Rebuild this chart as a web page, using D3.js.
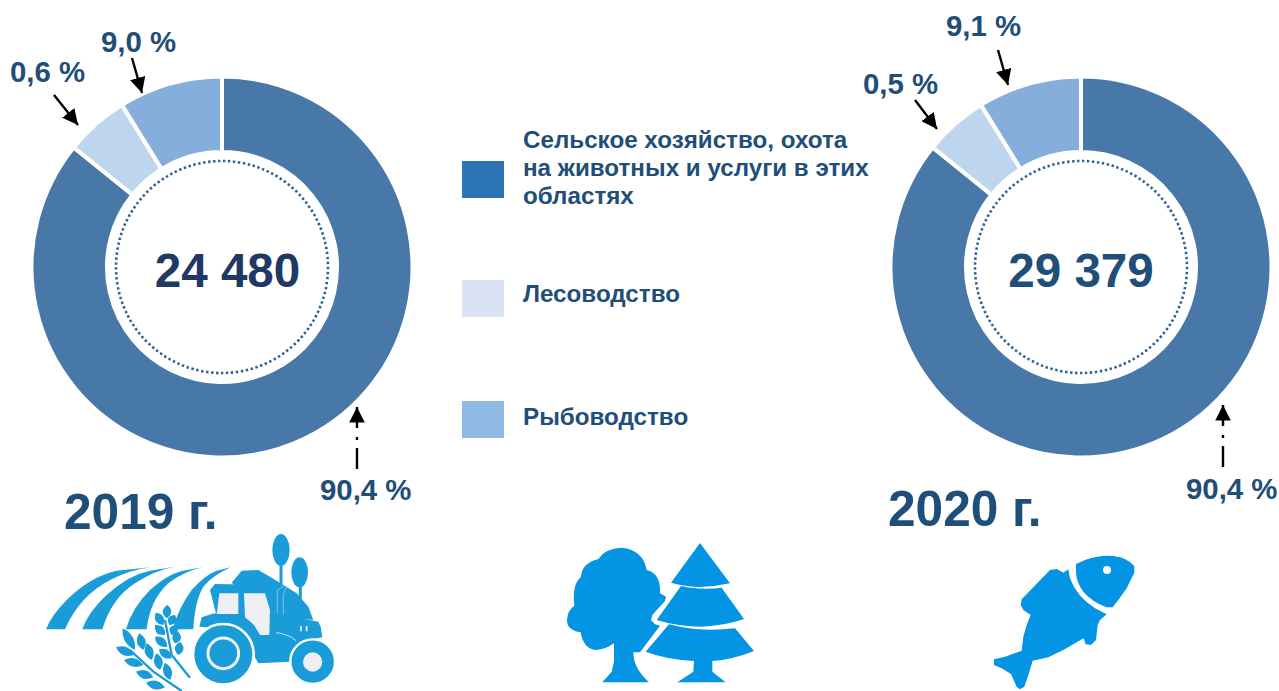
<!DOCTYPE html>
<html><head><meta charset="utf-8">
<script src="https://cdnjs.cloudflare.com/ajax/libs/d3/7.8.5/d3.min.js"></script>
<style>html,body{margin:0;padding:0;background:#fff;overflow:hidden}svg{display:block}text{font-family:"Liberation Sans",Arial,sans-serif;font-weight:700}</style>
</head><body><svg id="c" width="1279" height="691"></svg>
<script>
const categories=["Сельское хозяйство, охота на животных и услуги в этих областях","Лесоводство","Рыбоводство"];
const legendLines=[["Сельское хозяйство, охота","на животных и услуги в этих","областях"],["Лесоводство"],["Рыбоводство"]];
const sliceColors=["#4878A8","#BDD6EE","#85AEDC"];
const legendColors=["#2E75B6","#DAE3F3","#8FB9E3"];
const shares2019=[85.8,5.4,8.8];
const shares2020=[85.8,5.4,8.8];
const labels2019=["90,4 %","0,6 %","9,0 %"];
const labels2020=["90,4 %","0,5 %","9,1 %"];
const totals=["24 480","29 379"];
const years=["2019 г.","2020 г."];

const svg=d3.select("#c");
const textCol="#1F4E79";
const pie=d3.pie().sort(null).value(d=>d);
const arc=d3.arc().innerRadius(115).outerRadius(190.5);
svg.append("defs").append("marker").attr("id","ah").attr("viewBox","0 0 10 10").attr("refX",10).attr("refY",5)
  .attr("markerWidth",6.5).attr("markerHeight",6.5).attr("orient","auto").attr("markerUnits","strokeWidth")
  .append("path").attr("d","M0,0L10,5L0,10Z").attr("fill","#000");

function donut(cx,cy,vals,total,totalCol,dx){
  const g=svg.append("g").attr("transform",`translate(${cx},${cy})`);
  g.selectAll("path").data(pie(vals)).join("path").attr("d",arc)
    .attr("fill",(d,i)=>sliceColors[i]).attr("stroke","#fff").attr("stroke-width",4);
  g.append("circle").attr("r",106).attr("fill","none").attr("stroke","#2F6190").attr("stroke-width",2.6).attr("stroke-dasharray","2.4 2.6");
  g.append("text").attr("text-anchor","middle").attr("x",dx).attr("y",20).attr("font-size",47.6).attr("fill",totalCol).text(total);
}
donut(222,267,shares2019,totals[0],"#203864",5.5);
donut(1081,267,shares2020,totals[1],"#1F4E79",0);

function label(t,x,y){svg.append("text").attr("x",x).attr("y",y).attr("font-size",29.4).attr("fill",textCol).text(t);}
label(labels2019[2],101,52);label(labels2019[1],10,82);label(labels2019[0],320,500);
label(labels2020[2],946,36);label(labels2020[1],863,94);label(labels2020[0],1186,499);

function arrow(x1,y1,x2,y2,dash){
  const l=svg.append("line").attr("x1",x1).attr("y1",y1).attr("x2",x2).attr("y2",y2)
   .attr("stroke","#000").attr("stroke-width",2.4).attr("marker-end","url(#ah)");
  if(dash)l.attr("stroke-dasharray",dash);
}
arrow(132,58,142,93);arrow(54,95,78,125);arrow(357,469,357,407,"21 8 3 9 40");
arrow(998,50,1008,85);arrow(915,100,937,129);arrow(1223,467,1223,405,"21 8 3 9 40");

svg.append("text").attr("x",64).attr("y",529).attr("font-size",49.6).attr("fill",textCol).text(years[0]);
svg.append("text").attr("x",888).attr("y",526).attr("font-size",49.6).attr("fill",textCol).text(years[1]);

const legY=[161,280,401],legBase=[148,302,425];
categories.forEach((c,i)=>{
  svg.append("rect").attr("x",462).attr("y",legY[i]).attr("width",42).attr("height",37).attr("fill",legendColors[i]);
  legendLines[i].forEach((s,j)=>svg.append("text").attr("x",523).attr("y",legBase[i]+j*28).attr("font-size",24.2).attr("fill",textCol).text(s));
});

// Tractor pictogram: field furrows
const bl="#1A9CD8",gr="#EDEFF2";
const t0=svg.append("g").attr("transform","translate(0,520) scale(.3333)");
[
"M138,328Q155,285 200,240Q270,170 350,152L452,142Q390,150 335,178Q240,225 195,328Z",
"M247,328Q265,275 320,225Q385,165 450,152L525,140Q465,150 405,190Q335,235 307,328Z",
"M378,328Q395,265 450,210Q500,165 545,153L608,142Q550,155 505,190Q450,240 440,328Z",
"M518,328Q535,265 575,210Q615,165 650,152L692,142Q640,165 610,200Q585,240 580,328Z"
].forEach(d=>t0.append("path").attr("d",d).attr("fill",bl));

// Tractor pictogram: machine and trees
const t=svg.append("g").attr("transform","translate(190,530) scale(.3333)");
t.append("path").attr("d","M125,158L155,122L205,120L240,140L280,165L320,190L355,230L370,270L250,260Z").attr("fill",bl);
t.append("ellipse").attr("cx",273).attr("cy",60).attr("rx",26).attr("ry",48).attr("fill",bl);
t.append("ellipse").attr("cx",329).attr("cy",127).attr("rx",25).attr("ry",45).attr("fill",bl);
t.append("path").attr("d","M273,100V170M331,165V235").attr("stroke",bl).attr("stroke-width",9).attr("fill","none");
t.append("path").attr("d","M28,290L35,262L65,252L78,250L60,180L75,162L235,165L245,180L262,250L280,255L385,275L392,290L397,322L330,335L300,395L205,400L150,300Z").attr("fill",bl);
t.append("path").attr("d","M262,250V182L285,165M280,255V195L290,168").attr("stroke","#8FCBEA").attr("stroke-width",2.5).attr("fill","none");
t.append("path").attr("d","M258,308Q295,312 318,332").attr("stroke","#BFE2F3").attr("stroke-width",3).attr("fill","none");
t.append("path").attr("d","M333,288V304M350,288V304").attr("stroke",gr).attr("stroke-width",5);
t.append("path").attr("d","M88,190L145,190L145,252L80,252Z").attr("fill",gr);
t.append("path").attr("d","M162,190L225,190L240,240L238,315L210,315L192,285L165,262Z").attr("fill",gr);
t.append("circle").attr("cx",100).attr("cy",373).attr("r",91).attr("fill",bl).attr("stroke","#fff").attr("stroke-width",8);
t.append("circle").attr("cx",100).attr("cy",370).attr("r",46).attr("fill",bl).attr("stroke",gr).attr("stroke-width",9);
t.append("circle").attr("cx",368).attr("cy",395).attr("r",67).attr("fill",bl).attr("stroke","#fff").attr("stroke-width",7);
t.append("circle").attr("cx",368).attr("cy",396).attr("r",29).attr("fill",gr);

// Wheat ears
const w=svg.append("g").attr("transform","translate(110,600) scale(.3333)");
w.append("path").attr("d","M60,150L130,215L215,273M165,60L185,165L240,233").attr("fill","none").attr("stroke",bl).attr("stroke-width",7);
const leaves=[[75,150,38,85],[100,150,88,100],[72,165,18,142],[125,180,110,130],[100,195,42,180],[150,210,140,160],[130,232,78,215],[180,240,165,188],[165,262,108,248],
 [170,55,172,15],[160,75,137,38],[178,75,195,45],[165,105,135,75],[185,105,197,75],[172,140,135,110],[195,130,205,95],[185,175,147,148],[205,165,210,125]];
leaves.forEach(([a,b,c,d])=>{
  const mx=(a+c)/2,my=(b+d)/2,dx=c-a,dy=d-b,n=Math.hypot(dx,dy),k=26;
  const px=-dy/n*k,py=dx/n*k;
  w.append("path").attr("d",`M${a},${b}Q${mx+px},${my+py} ${c},${d}Q${mx-px},${my-py} ${a},${b}Z`).attr("fill",bl);
});

// Forest pictogram
const b2="#0394E3";
const f=svg.append("g").attr("transform","translate(565,535) scale(.3333)");
[
"M112,442L140,410L147,380L147,325Q120,345 90,345Q55,340 47,292Q5,285 6,255Q8,225 28,212Q20,150 48,125Q50,85 100,72Q120,40 170,38Q235,45 245,105Q288,115 285,175L303,185L300,198L262,240L258,255L270,268L285,272L225,352L205,352Q205,400 252,442Z",
"M405,24L495,145Q450,155 405,156Q360,155 318,143Z",
"M348,153L375,158Q430,165 470,158L537,252Q480,272 410,275Q340,275 275,255Z",
"M312,268L345,275Q420,290 510,280L567,348Q500,375 442,378L442,410L482,442L337,442L385,410L387,378Q310,375 242,350Z"
].forEach(d=>f.append("path").attr("d",d).attr("fill",b2));

// Fish pictogram
const fish=svg.append("g").attr("transform","translate(985,550) scale(.3333)");
fish.append("path").attr("d","M273,42L300,30Q345,15 385,18Q425,22 448,48L448,68L425,115L400,150L383,172L365,172Q320,155 295,125Q273,95 273,65Z").attr("fill",b2);
fish.append("circle").attr("cx",366).attr("cy",60).attr("r",12).attr("fill","#fff");
fish.append("path").attr("d","M195,60L215,57L235,68L250,58L255,85Q275,140 330,175L365,193L345,210L338,225L333,270L318,285L302,283L296,265L270,280L235,300L190,322L143,332L130,375L118,410L105,418L95,410L78,372L50,355L27,345L27,328L60,320L110,302L115,260L125,225L137,195L115,180L107,165L110,148Z").attr("fill",b2);
</script></body></html>
